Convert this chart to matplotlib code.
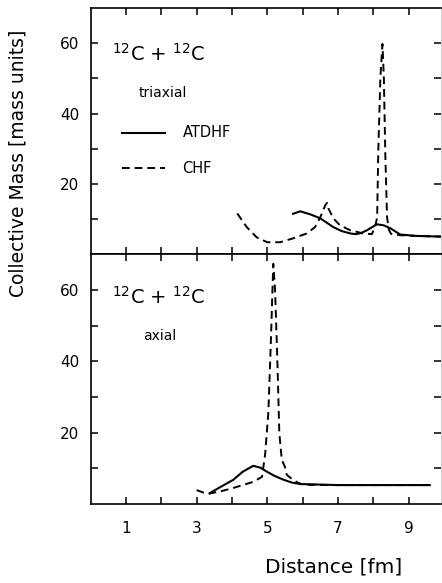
import matplotlib.pyplot as plt
from matplotlib.ticker import FixedLocator

# triaxial panel (top)
tri_chf_x = [4.15, 4.42, 4.7, 5.0, 5.36, 5.73, 6.12, 6.35, 6.5, 6.64, 6.69, 6.73, 6.87, 7.06,
             7.35, 7.72, 7.96, 8.05, 8.11, 8.14, 8.2, 8.26, 8.3, 8.34, 8.39, 8.44, 8.5, 8.76, 9.2, 9.95]
tri_chf_y = [11.6, 7.7, 4.8, 3.4, 3.4, 4.5, 5.9, 7.7, 10.5, 13.9, 14.6, 13.0, 10.2, 8.2,
             6.8, 5.9, 5.7, 7.7, 10.5, 28.6, 50.0, 59.8, 50.0, 28.6, 10.5, 7.0, 5.8, 5.4, 5.2, 5.0]
tri_atdhf_x = [5.73, 5.93, 6.2, 6.5, 6.87, 7.1, 7.35, 7.5, 7.65, 7.82, 8.1, 8.3, 8.48, 8.76, 9.2, 9.95]
tri_atdhf_y = [11.5, 12.2, 11.4, 10.2, 7.7, 6.6, 5.9, 5.7, 6.0, 6.8, 8.5, 8.2, 7.4, 5.6, 5.2, 5.0]

# axial panel (bottom)
ax_chf_x = [3.0, 3.3, 3.7, 4.04, 4.6, 4.85, 4.89, 4.94, 5.03, 5.1, 5.17, 5.22, 5.27, 5.3, 5.34,
            5.41, 5.5, 5.55, 5.7, 5.88, 6.03, 7.0, 8.0, 9.6]
ax_chf_y = [3.9, 2.8, 3.6, 4.5, 6.2, 7.6, 10.4, 14.0, 25.6, 45.0, 67.3, 60.0, 45.0, 35.0, 20.0,
            12.4, 10.4, 8.2, 7.0, 5.9, 5.4, 5.3, 5.3, 5.3]
ax_atdhf_x = [3.38, 3.7, 4.04, 4.3, 4.6, 4.8, 5.0, 5.2, 5.46, 5.7, 5.93, 7.0, 8.0, 9.6]
ax_atdhf_y = [3.1, 4.9, 6.8, 9.0, 10.7, 10.2, 9.0, 7.9, 6.8, 6.0, 5.6, 5.3, 5.3, 5.3]

x_major = [1, 3, 5, 7, 9]
x_minor = [2, 4, 6, 8]
y_major = [20, 40, 60]
y_minor = [10, 30, 50]

plt.rcParams["font.family"] = "DejaVu Sans"

fig = plt.figure(figsize=(4.42, 5.83), dpi=100)
ax1 = fig.add_axes([0.205, 0.564, 0.793, 0.422])
ax2 = fig.add_axes([0.205, 0.1355, 0.793, 0.4285])

dash = (0, (4, 2.5))
ax1.plot(tri_chf_x, tri_chf_y, color="black", lw=1.4, linestyle=dash)
ax1.plot(tri_atdhf_x, tri_atdhf_y, color="black", lw=1.5)
ax2.plot(ax_chf_x, ax_chf_y, color="black", lw=1.4, linestyle=dash)
ax2.plot(ax_atdhf_x, ax_atdhf_y, color="black", lw=1.5)

for ax in (ax1, ax2):
    ax.set_xlim(0, 9.92)
    ax.set_ylim(0, 70)
    ax.xaxis.set_major_locator(FixedLocator(x_major))
    ax.xaxis.set_minor_locator(FixedLocator(x_minor))
    ax.yaxis.set_major_locator(FixedLocator(y_major))
    ax.yaxis.set_minor_locator(FixedLocator(y_minor))
    ax.tick_params(which="both", direction="in", length=5, width=1.1,
                   top=True, right=True, labelsize=11)
    for s in ax.spines.values():
        s.set_linewidth(1.2)
    ax.spines["right"].set_linewidth(0.5)
    ax.spines["right"].set_color("#bbbbbb")

ax1.tick_params(labelbottom=False)
ax2.tick_params(axis="x", pad=12)
ax1.tick_params(axis="y", pad=8)
ax2.tick_params(axis="y", pad=8)

ax1.text(0.6, 57, r"$^{12}$C + $^{12}$C", fontsize=14, va="center")
ax1.text(1.35, 46, "triaxial", fontsize=10, va="center")
ax1.plot([0.88, 2.1], [34.5, 34.5], color="black", lw=1.5)
ax1.plot([0.88, 2.1], [24.5, 24.5], color="black", lw=1.4, linestyle=dash)
ax1.text(2.6, 34.5, "ATDHF", fontsize=10.5, va="center")
ax1.text(2.6, 24.5, "CHF", fontsize=10.5, va="center")

ax2.text(0.6, 58, r"$^{12}$C + $^{12}$C", fontsize=14, va="center")
ax2.text(1.5, 47, "axial", fontsize=10, va="center")

fig.text(0.04, 0.72, "Collective Mass [mass units]", rotation=90, fontsize=13.5,
         ha="center", va="center")
fig.text(0.755, 0.028, "Distance [fm]", fontsize=14.5, ha="center", va="center")

fig.savefig("out.png", dpi=100)
